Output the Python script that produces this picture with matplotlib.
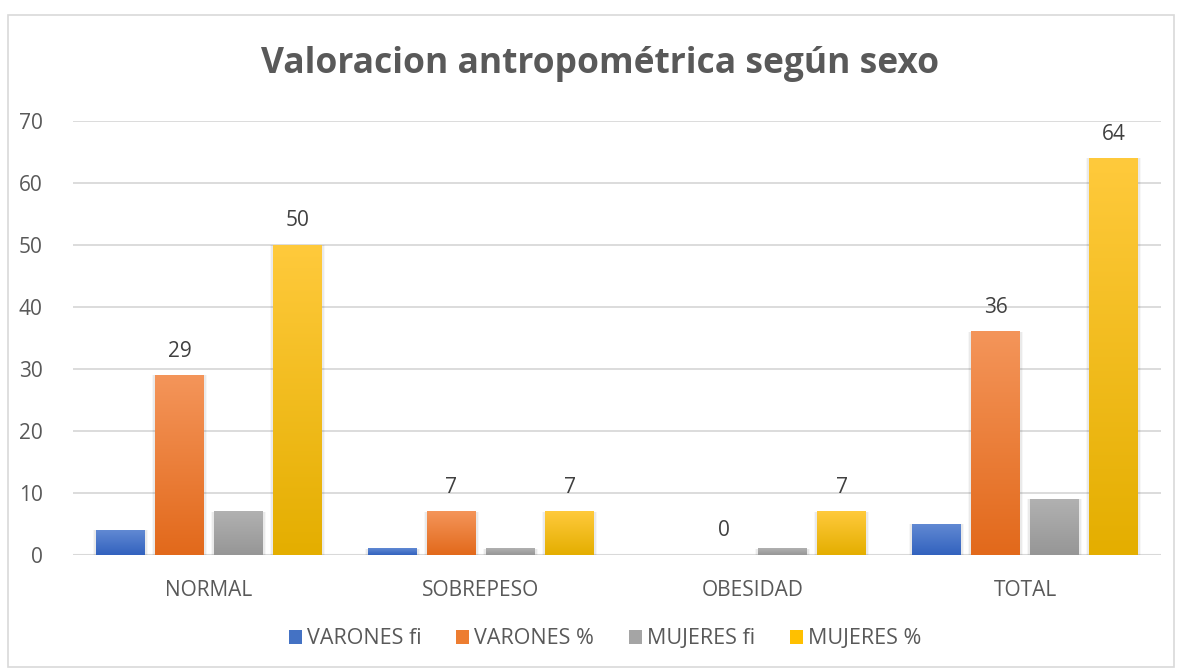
import matplotlib
matplotlib.use("Agg")
import matplotlib.pyplot as plt
import numpy as np
from matplotlib.patches import Rectangle
from matplotlib.colors import LinearSegmentedColormap

categories = ["NORMAL", "SOBREPESO", "OBESIDAD", "TOTAL"]
series_names = ["VARONES fi", "VARONES %", "MUJERES fi", "MUJERES %"]
varones_fi = [4, 1, 0, 5]
varones_pct = [29, 7, 0, 36]
mujeres_fi = [7, 1, 1, 9]
mujeres_pct = [50, 7, 7, 64]
yticks = [0, 10, 20, 30, 40, 50, 60, 70]
title = "Valoracion antropométrica según sexo"

series = [varones_fi, varones_pct, mujeres_fi, mujeres_pct]
labeled = [False, True, False, True]
grad = [("#6189d3", "#3262be"), ("#f4955a", "#e2691b"),
        ("#b1b1b1", "#969696"), ("#ffca3c", "#e4ae00")]
solid = ["#4472c4", "#ed7d31", "#a5a5a5", "#ffc000"]

plt.rcParams['font.family'] = ['Open Sans', 'DejaVu Sans']
txt = "#595959"

fig = plt.figure(figsize=(11.79, 6.71), dpi=100)
fig.patches.append(Rectangle((8/1179, 4/671), 1166/1179, 652/671, transform=fig.transFigure,
                             fill=False, edgecolor="#d9d9d9", linewidth=1.2))
ax = fig.add_axes([73/1179, 1 - 555/671, (1161-73)/1179, (555-121)/671])
ax.set_xlim(-0.5, 3.5)
ax.set_ylim(0, 70)
ax.set_yticks(yticks)
ax.yaxis.grid(True, color="#d9d9d9", linewidth=1.3)
ax.set_axisbelow(True)
for s in ax.spines.values():
    s.set_visible(False)
ax.tick_params(axis='both', length=0, colors=txt, labelsize=15)
ax.tick_params(axis='y', pad=22)
ax.tick_params(axis='x', pad=18)
ax.set_xticks(range(len(categories)))
ax.set_xticklabels(categories)
ax.axhline(0, color="#d9d9d9", linewidth=1.5, zorder=1)

bw = 0.18
step = 0.217
x = np.arange(len(categories))
for i, (vals, (ctop, cbot)) in enumerate(zip(series, grad)):
    xs = x + (i - 1.5) * step
    cmap = LinearSegmentedColormap.from_list("g%d" % i, [cbot, ctop])
    bars = ax.bar(xs, vals, width=bw, color=solid[i], zorder=2, label=series_names[i])
    for b in bars:
        h = b.get_height()
        if h <= 0:
            continue
        bx = b.get_x()
        for k, a in [(0.012, 0.03), (0.006, 0.05)]:
            ax.add_patch(Rectangle((bx - k, -0.4), bw + 2 * k, h + 0.4, facecolor="#000000",
                                   alpha=a, zorder=1.5, linewidth=0))
        g = np.linspace(0, 1, 256).reshape(-1, 1)
        ax.imshow(g, extent=(bx, bx + bw, 0, h), origin='lower', cmap=cmap,
                  aspect='auto', zorder=2.5, interpolation='bicubic')
        b.set_alpha(0)
    if labeled[i]:
        for xx, v in zip(xs, vals):
            ax.text(xx, v + 2.2, str(v), ha='center', va='bottom', fontsize=15, color="#404040")
ax.set_xlim(-0.5, 3.5)
ax.set_ylim(0, 70)

handles = [Rectangle((0, 0), 1, 1, facecolor=c) for c in solid]
fig.legend(handles, series_names, loc='center', bbox_to_anchor=(605/1179, 1 - 639/671),
           ncol=4, frameon=False, fontsize=15.5, labelcolor=txt, handlelength=0.6,
           handleheight=0.6, handletextpad=0.25, columnspacing=1.6)

fig.text(600/1179, 1 - 64/671, title, ha='center', va='center', fontsize=25.5,
         fontweight='bold', color=txt)

fig.savefig("out.png", dpi=100)
